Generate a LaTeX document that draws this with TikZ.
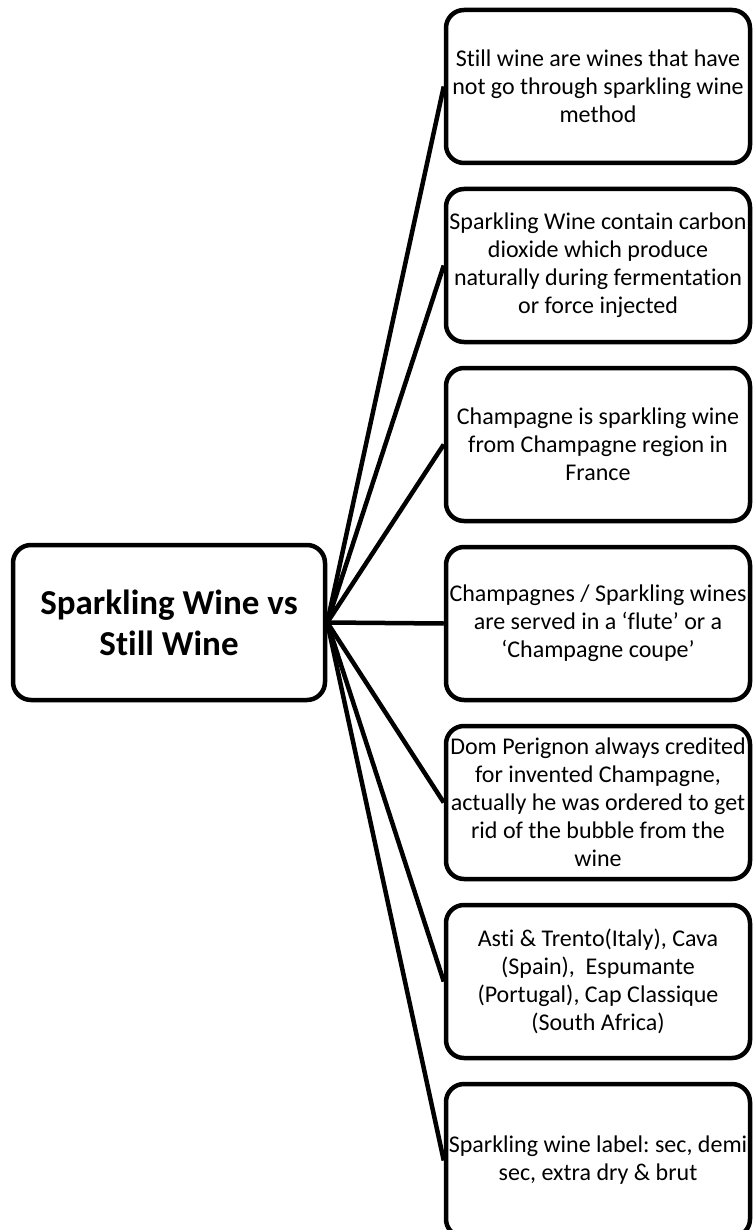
\documentclass[tikz,border=0pt]{standalone}
\usepackage{fontspec}
\setmainfont{Carlito}[Ligatures=NoCommon]
\usetikzlibrary{backgrounds}
\frenchspacing
\begin{document}
\begin{tikzpicture}[x=1pt,y=-1pt,
  box/.style={draw=black, line width=4.5pt, rounded corners=18pt, fill=white,
    minimum width=304pt, minimum height=153pt, inner sep=0pt, align=center,
    font=\fontsize{24pt}{28pt}\selectfont},
  hub/.style={draw=black, line width=4.5pt, rounded corners=18pt, fill=white,
    minimum width=312pt, minimum height=155pt, inner sep=0pt, align=center,
    font=\fontsize{35pt}{41pt}\selectfont\bfseries},
  link/.style={draw=black, line width=4.5pt}]
\useasboundingbox (0,0) rectangle (752,1230);
\node[hub] (c) at (169,622.5) {Sparkling Wine vs\\Still Wine};
\node[box] (b1) at (598,86.5) {Still wine are wines that have\\not go through sparkling wine\\method};
\node[box] (b2) at (598,265.5) {Sparkling Wine contain carbon\\dioxide which produce\\naturally during fermentation\\or force injected};
\node[box] (b3) at (598,444.5) {Champagne is sparkling wine\\from Champagne region in\\France};
\node[box] (b4) at (598,623.5) {Champagnes / Sparkling wines\\are served in a ‘flute’ or a\\‘Champagne coupe’};
\node[box] (b5) at (598,802.5) {Dom Perignon always credited\\for invented Champagne,\\actually he was ordered to get\\rid of the bubble from the\\wine};
\node[box] (b6) at (598,981.5) {Asti \& Trento(Italy), Cava\\(Spain),~ Espumante\\(Portugal), Cap Classique\\(South Africa)};
\node[box] (b7) at (598,1160.5) {Sparkling wine label: sec, demi\\sec, extra dry \& brut};
\begin{scope}[on background layer]
\fill[white] (0,0) rectangle (752,1230);
\foreach \i in {1,...,7} {\draw[link] (c.east) -- (b\i.west);}
\end{scope}
\end{tikzpicture}
\end{document}
